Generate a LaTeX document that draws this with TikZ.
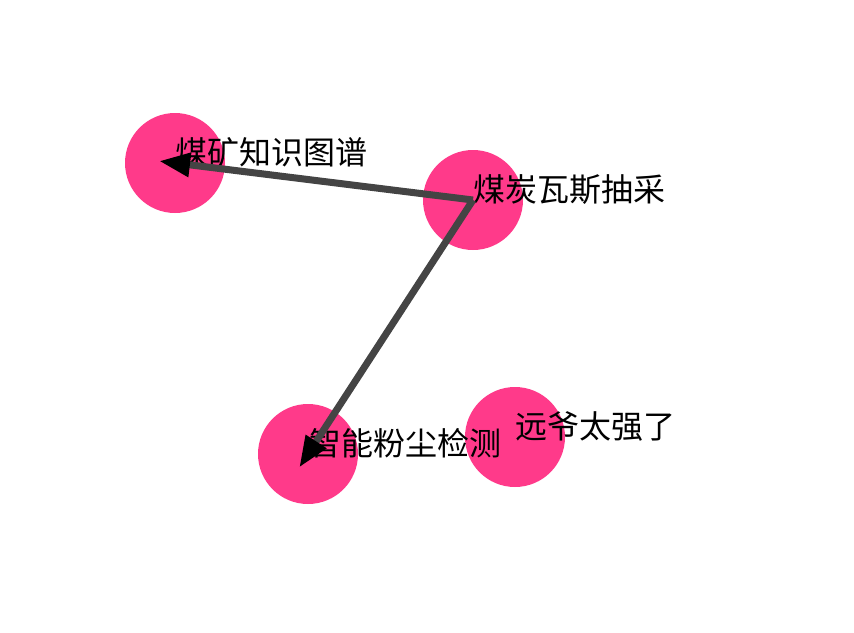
\documentclass[tikz,border=0pt]{standalone}
\usepackage{fontspec}
\newfontfamily\cjk{Noto Sans CJK SC}
\usetikzlibrary{arrows.meta}
\definecolor{nodepink}{RGB}{255,58,138}
\definecolor{edgegray}{RGB}{68,68,68}
\tikzset{
  dot/.style={circle, fill=nodepink, draw=none, minimum size=100pt, inner sep=0pt},
  lbl/.style={anchor=base west, inner sep=0pt, font=\cjk\fontsize{32pt}{32pt}\selectfont, text=black},
  edge/.style={draw=edgegray, line width=7pt, shorten >=-16pt,
    -{Triangle[length=31pt, width=23pt, color=black, fill=black]}}
}
\begin{document}
\begin{tikzpicture}[x=1pt, y=-1pt]
\useasboundingbox (0,0) rectangle (854,632);
\node[dot] (c1) at (175,163) {};
\node[dot] (c2) at (473,200) {};
\node[dot] (c3) at (308,454) {};
\node[dot] (c4) at (515,437) {};
\node[lbl] (t1) at (175,164) {煤矿知识图谱};
\node[lbl] (t2) at (473,201) {煤炭瓦斯抽采};
\node[lbl] (t3) at (309,455) {智能粉尘检测};
\node[lbl] (t4) at (515,438) {远爷太强了};
\draw[edge] (c2.center) -- (c1.center);
\draw[edge] (c2.center) -- (c3.center);
\end{tikzpicture}
\end{document}
